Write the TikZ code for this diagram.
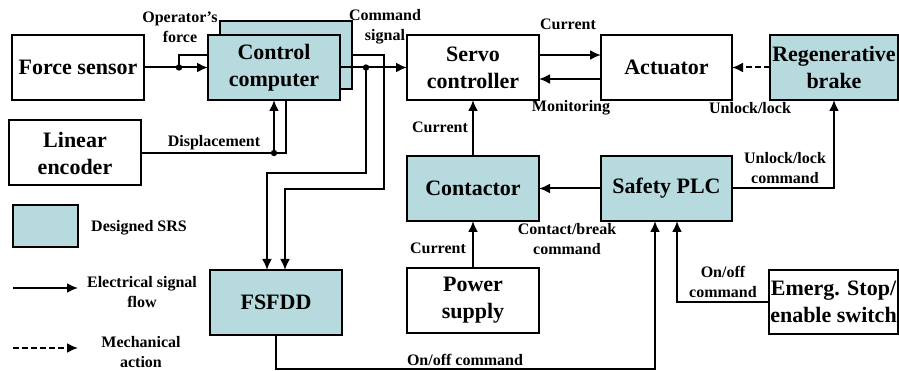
\documentclass[tikz,border=0pt]{standalone}
\usepackage{fontspec}
\setmainfont{Liberation Serif}
\usetikzlibrary{arrows.meta, positioning, calc}
\definecolor{SRSBlue}{RGB}{183,218,222}
\tikzset{
  >=latex,
  % Blocchi
  block/.style={draw=black,line width=2pt,fill=white,minimum width=132,minimum height=65,
    inner sep=1,outer sep=0,align=center,font=\fontsize{22}{27}\selectfont\bfseries},
  block srs/.style={block,fill=SRSBlue},
  % Etichette
  tag/.style={align=center,inner sep=0,font=\fontsize{16}{20}\selectfont\bfseries},
  % Connessioni
  connect/.style={line width=2pt,black},
  connect arrow/.style={connect,-{Latex[length=11,width=10]}},
  connect dashed/.style={connect arrow,dash pattern=on 6pt off 3pt},
  junction/.style={fill=black}
}
\begin{document}
\begin{tikzpicture}[x=1pt,y=-1pt]
  \useasboundingbox[fill=white] (0,0) rectangle (899,371);
  % Blocchi
  \node[block] (force) at (78,67.5) {Force sensor};
  \node[block srs,minimum height=68] (ctrlback) at (286,55) {};
  \node[block srs] (ctrl) at (274,67.5) {Control\\computer};
  \node[block] (servo) at (473,67.5) {Servo\\controller};
  \node[block,minimum width=131] (actuator) at (666.5,67.5) {Actuator};
  \node[block srs,minimum width=128] (brake) at (834,67.5) {Regenerative\\brake};
  \node[block] (encoder) at (75,153) {Linear\\encoder};
  \node[block srs] (contactor) at (473,188.5) {Contactor};
  \node[block srs,minimum width=131] (plc) at (666.5,188.5) {Safety PLC};
  \node[block] (power) at (473,300.5) {Power\\supply};
  \node[block,minimum width=129,minimum height=64] (estop) at (833.5,302) {Emerg. Stop/\\enable switch};
  \node[block srs] (fsfdd) at (276,302.5) {FSFDD};
  \node[block srs,minimum width=65,minimum height=42] (legbox) at (45.5,226) {};
  % Punti di giunzione e di piega
  \coordinate (fdot) at (179,67.5);
  \coordinate (cdot) at (366,67.5);
  \coordinate (edot) at (ctrl.south |- encoder.east);
  \coordinate (cbend) at (366,173);
  \coordinate (sbend) at (384,189);
  \coordinate (fbend) at (276,369);
  \coordinate (lega1) at (13,288);
  \coordinate (lega2) at (78,288);
  \coordinate (legb1) at (13,348);
  \coordinate (legb2) at (78,348);
  % Connessioni
  \draw[connect arrow] (force.east) -- (ctrl.west);
  \draw[connect] (fdot) |- ([yshift=12.5pt]ctrl.west);
  \draw[connect arrow] (ctrl.east) -- (servo.west);
  \draw[connect arrow] (cdot) -- (cbend) -| ([xshift=-9pt]fsfdd.north);
  \draw[connect arrow] (ctrlback.east) -| (sbend) -| ([xshift=9pt]fsfdd.north);
  \draw[connect] (encoder.east) -| ([xshift=12pt]ctrl.south);
  \draw[connect arrow] (edot) -- (ctrl.south);
  \draw[connect arrow] ([yshift=12.5pt]servo.east) -- ([yshift=12.5pt]actuator.west);
  \draw[connect arrow] ([yshift=-11.5pt]actuator.west) -- ([yshift=-11.5pt]servo.east);
  \draw[connect dashed] (brake.west) -- (actuator.east);
  \draw[connect arrow] (plc.east) -| (brake.south);
  \draw[connect arrow] (contactor.north) -- (servo.south);
  \draw[connect arrow] (plc.west) -- (contactor.east);
  \draw[connect arrow] (power.north) -- (contactor.south);
  \draw[connect arrow] (fsfdd.south) -- (fbend) -| ([xshift=-11.5pt]plc.south);
  \draw[connect arrow] (estop.west) -| ([xshift=10.5pt]plc.south);
  \draw[connect arrow] (lega1) -- (lega2);
  \draw[connect dashed] (legb1) -- (legb2);
  \foreach \j in {fdot,cdot,edot} \fill[junction] (\j) circle (3.2pt);
  % Etichette
  \node[tag] (tforce) at (180,27) {Operator’s\\force};
  \node[tag] (tcmd) at (385,27) {Command\\signal};
  \node[tag] (tdisp) at (214,143) {Displacement};
  \node[tag] (tcur1) at (568,24) {Current};
  \node[tag] (tmon) at (571,108) {Monitoring};
  \node[tag] (tlock) at (750,108) {Unlock/lock};
  \node[tag] (tcur2) at (440,127) {Current};
  \node[tag] (tlockcmd) at (785,168) {Unlock/lock\\command};
  \node[tag] (tcontact) at (567,239) {Contact/break\\command};
  \node[tag] (tcur3) at (438,248) {Current};
  \node[tag] (tonoff1) at (723,282) {On/off\\command};
  \node[tag] (tonoff2) at (465,360) {On/off command};
  \node[tag] (tsrs) at (139,228) {Designed SRS};
  \node[tag] (telec) at (142,292) {Electrical signal\\flow};
  \node[tag] (tmech) at (141,352) {Mechanical\\action};
\end{tikzpicture}
\end{document}
